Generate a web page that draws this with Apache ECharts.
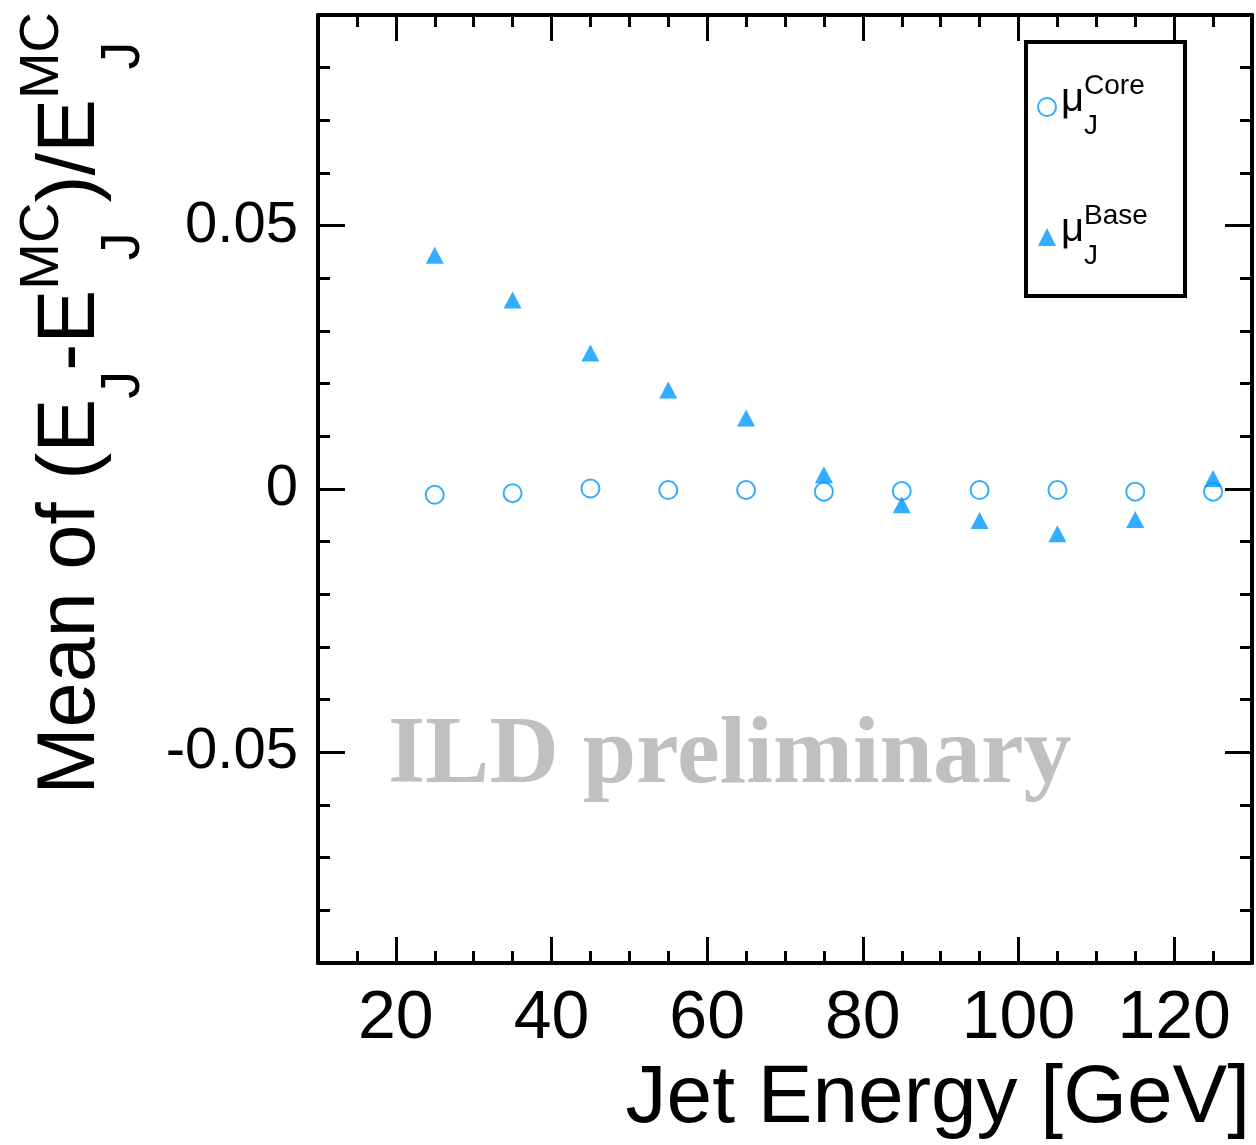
<!DOCTYPE html>
<html>
<head>
<meta charset="utf-8">
<script src="https://cdn.jsdelivr.net/npm/echarts@6/dist/echarts.min.js"></script>
<style>
html,body{margin:0;padding:0;background:#fff;}
#chart{width:1256px;height:1145px;}
</style>
</head>
<body>
<div id="chart"></div>
<script>
// ---- data ----
const energies = [25, 35, 45, 55, 65, 75, 85, 95, 105, 115, 125];
const muCore = [-0.0011, -0.0008, 0.0001, -0.0002, -0.0002, -0.0005, -0.0004, -0.0002, -0.0002, -0.0005, -0.0005];
const muBase = [0.0444, 0.0359, 0.0258, 0.0188, 0.0135, 0.0027, -0.0030, -0.0060, -0.0085, -0.0058, 0.0020];
const xMajorTicks = [20, 40, 60, 80, 100, 120];
const xMinorTicks = [15, 25, 30, 35, 45, 50, 55, 65, 70, 75, 85, 90, 95, 105, 110, 115, 125];
const yMajorTicks = [-0.05, 0, 0.05];
const yMinorTicks = [-0.08, -0.07, -0.06, -0.04, -0.03, -0.02, -0.01, 0.01, 0.02, 0.03, 0.04, 0.06, 0.07, 0.08];

const BLUE = '#0099ff';
const FONT = '"Liberation Sans", Arial, Helvetica, sans-serif';
const HID = 'rgba(0,0,0,0)';

const chart = echarts.init(document.getElementById('chart'), null, {renderer: 'canvas'});

function xAx(pos, ticks, len, withLine, withLabel) {
  return {
    type: 'value', position: pos, min: 10, max: 130,
    axisLine: {show: withLine, onZero: false, lineStyle: {color: '#000', width: 4}},
    axisTick: {show: true, inside: true, length: len, customValues: ticks, lineStyle: {color: '#000', width: 3}},
    axisLabel: withLabel ? {show: true, customValues: ticks, fontSize: 68, fontFamily: FONT, color: '#000', margin: 22} : {show: false},
    splitLine: {show: false}
  };
}
function yAx(pos, ticks, len, withLine, withLabel) {
  return {
    type: 'value', position: pos, min: -0.09, max: 0.09,
    axisLine: {show: withLine, onZero: false, lineStyle: {color: '#000', width: 4}},
    axisTick: {show: true, inside: true, length: len, customValues: ticks, lineStyle: {color: '#000', width: 3}},
    axisLabel: withLabel ? {show: true, customValues: ticks, fontSize: 58, fontFamily: FONT, color: '#000', margin: 20} : {show: false},
    splitLine: {show: false}
  };
}

// y title rich text (rotated): line1 superscripts, line2 main, line3 subscripts (zrender style: fill)
const FM = 81, FS = 56;
function zs(size, color, lh) { return {fontSize: size, fontFamily: FONT, fill: color, lineHeight: lh, verticalAlign: 'middle'}; }
const cv = document.createElement('canvas').getContext('2d');
cv.font = FS + 'px ' + FONT;
const wMC = cv.measureText('MC').width;
const yRich = {
  h1: zs(FM, HID, 28), p1: zs(FS, '#000', 28), q1: zs(FS, HID, 28),
  m2: zs(FM, '#000', 30), q2: zs(FS, HID, 30),
  h3: zs(FM, HID, 74), b3: zs(FS, '#000', 74)
};
yRich.b3w = Object.assign({}, yRich.b3, {width: wMC, align: 'left'});
const yTitle =
  '{h1|Mean of (E}{q1|J}{h1|-E}{p1|MC}{h1|)/E}{p1|MC}\n' +
  '{m2|Mean of (E}{q2|J}{m2|-E}{q2|MC}{m2|)/E}{q2|MC}\n' +
  '{h3|Mean of (E}{b3|J}{h3|-E}{b3w|J}{h3|)/E}{b3w|J}';

// legend rich text (echarts textStyle: color)
const FL = 28, FMU = 40;
function es(size, color, lh) { return {fontSize: size, fontFamily: FONT, color: color, lineHeight: lh, verticalAlign: 'middle'}; }
const legRich = {
  e0: {fontSize: 1, lineHeight: 10, color: HID},
  s1: es(FMU, HID, 16), t1: es(FL, '#000', 16),
  mu: es(FMU, '#000', 12),
  s3: es(FMU, HID, 40), t3: es(FL, '#000', 40)
};

const option = {
  animation: false,
  backgroundColor: '#fff',
  grid: {left: 318, top: 15, width: 934, height: 948, show: false},
  xAxis: [
    xAx('bottom', xMajorTicks, 26, true, true),
    xAx('bottom', xMinorTicks, 12, false, false),
    xAx('top', xMajorTicks, 26, true, false),
    xAx('top', xMinorTicks, 12, false, false)
  ],
  yAxis: [
    yAx('left', yMajorTicks, 27, true, true),
    yAx('left', yMinorTicks, 12, false, false),
    yAx('right', yMajorTicks, 27, true, false),
    yAx('right', yMinorTicks, 12, false, false)
  ],
  legend: {
    orient: 'vertical', left: 1037, top: 66, padding: 0, itemGap: 50,
    itemWidth: 18, itemHeight: 18,
    selectedMode: false,
    data: [
      {name: 'Core', icon: 'circle', itemStyle: {color: '#fff', borderColor: BLUE, borderWidth: 2}},
      {name: 'Base', icon: 'triangle', itemStyle: {color: BLUE, borderWidth: 0}}
    ],
    formatter: function (name) {
      return '{e0| }\n{s1|μ}{t1|' + name + '}\n{mu|μ}\n{s3|μ}{t3|J}';
    },
    textStyle: {rich: legRich}
  },
  graphic: [
    {type: 'rect', shape: {x: 1026, y: 42, width: 159, height: 254}, style: {fill: 'none', stroke: '#000', lineWidth: 4}, z: 10},
    {type: 'text', x: 388, y: 805, style: {text: 'ILD preliminary', font: 'bold 96px "Liberation Serif", "Times New Roman", serif', fill: '#c0c0c0', align: 'left', verticalAlign: 'bottom'}, z: 1},
    {type: 'text', x: 1250, y: 1140, style: {text: 'Jet Energy [GeV]', font: '82px ' + FONT, fill: '#000', align: 'right', verticalAlign: 'bottom'}},
    {type: 'text', x: 95, y: 12, rotation: Math.PI / 2, style: {text: yTitle, rich: yRich, align: 'right', verticalAlign: 'middle'}}
  ],
  series: [
    {
      name: 'Core', type: 'scatter', xAxisIndex: 0, yAxisIndex: 0,
      symbol: 'circle', symbolSize: 18,
      itemStyle: {color: 'rgba(255,255,255,0)', borderColor: BLUE, borderWidth: 2},
      data: energies.map((e, i) => [e, muCore[i]]), z: 3
    },
    {
      name: 'Base', type: 'scatter', xAxisIndex: 0, yAxisIndex: 0,
      symbol: 'triangle', symbolSize: [18, 17],
      itemStyle: {color: BLUE},
      data: energies.map((e, i) => [e, muBase[i]]), z: 4
    }
  ]
};
chart.setOption(option);
</script>
</body>
</html>
